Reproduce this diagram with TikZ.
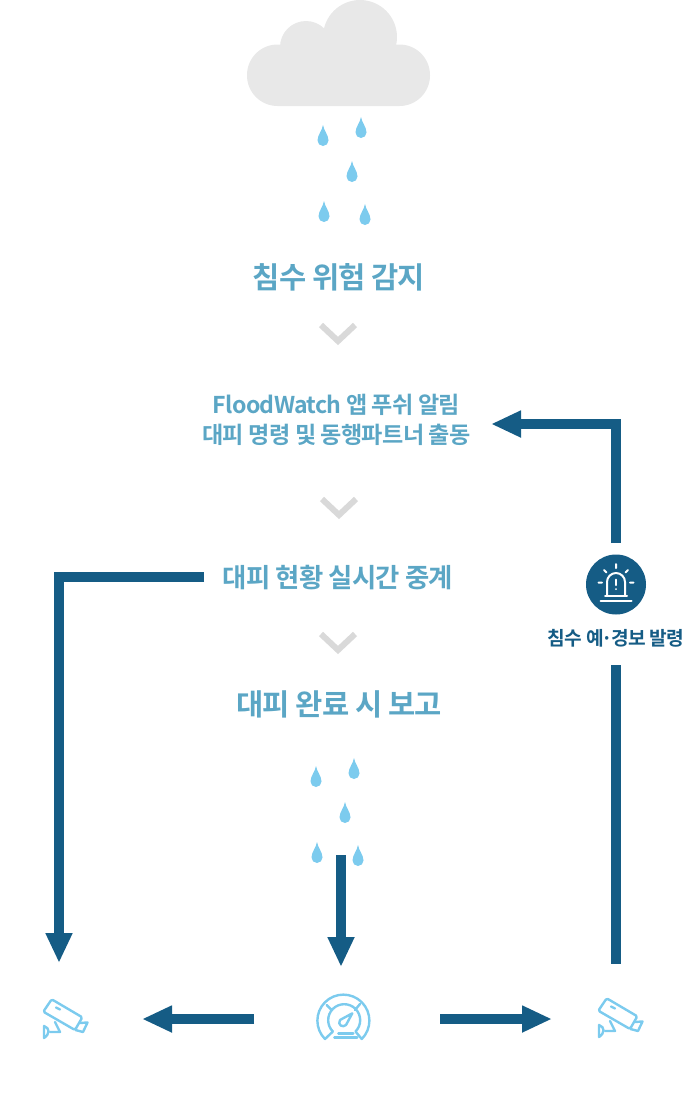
\documentclass[tikz,border=0pt]{standalone}
\usepackage{fontspec}
\setmainfont{Noto Sans CJK KR}[BoldFont={Noto Sans CJK KR Bold},LetterSpace=-3]
\usetikzlibrary{arrows.meta}
\definecolor{lineblue}{HTML}{155C85}
\definecolor{textblue}{HTML}{5BA6C5}
\definecolor{dropblue}{HTML}{7CCBEE}
\tikzset{
headline/.style={text=textblue,font=\bfseries\fontsize{29.6}{30}\selectfont,inner sep=0pt},
subline/.style={text=textblue,font=\bfseries\fontsize{26.4}{30}\selectfont,inner sep=0pt},
pushline/.style={text=textblue,font=\bfseries\fontsize{23.1}{30}\selectfont,inner sep=0pt,align=center},
alarmlabel/.style={text=lineblue,font=\bfseries\fontsize{19.2}{22}\selectfont,inner sep=0pt},
flowline/.style={draw=lineblue,line width=10pt},
flowarrow/.style={flowline,-{Triangle[length=30pt,width=25pt]}},
chevron/.style={draw=black!15,line width=6pt},
iconline/.style={draw=dropblue,line width=2.4pt,line join=round,line cap=round},
alarmline/.style={draw=white,line width=2pt,line cap=round},
raindrop/.pic={\fill[dropblue] (0,21) .. controls (1,15) and (5.5,11) .. (5.5,5.5)
arc (0:-180:5.5) .. controls (-5.5,11) and (-1,15) .. (0,21);},
camera/.pic={
\draw[iconline,rounded corners=1.5pt] (43.3,-1011.7)--(51.7,-999.3)--(82.3,-1017.3)--(75,-1030)--cycle;
\draw[iconline] (79.5,-1023)--(87.5,-1022.5)--(83,-1032)--(75.5,-1030);
\draw[iconline] (55,-1022)--(60,-1032)--(50,-1032);
\draw[iconline] (44,-1026) .. controls (50,-1028) and (50,-1034) .. (44,-1038)--cycle;
\draw[iconline] (56,-1007.5)--(60,-1009.5);
}}
\begin{document}
\begin{tikzpicture}[x=1pt,y=1pt]
\useasboundingbox (0,0) rectangle (683,-1117);
\fill[black!9] (360,-37) circle (37) (306,-47) circle (26);
\fill[black!9,rounded corners=30.5pt] (247,-44.5) rectangle (430,-106);
\foreach \x/\y in {323/146,361/138,352/182,324/222,365/225,316/787,354/779,345/823,317/863,358/866}
\pic at (\x,-\y) {raindrop};
\foreach \x/\y in {338/341,339/515,338/650}
\draw[chevron] (\x-17,-\y+16)--(\x,-\y)--(\x+17,-\y+16);
\node[headline] (detect) at (339,-277) {침수 위험 감지};
\node[pushline] (push) at (336.5,-420) {FloodWatch 앱 푸쉬 알림\\대피 명령 및 동행파트너 출동};
\node[subline] (relay) at (338,-578) {대피 현황 실시간 중계};
\node[headline] (report) at (339,-704) {대피 완료 시 보고};
\node[circle,fill=lineblue,minimum size=60pt,inner sep=0pt] (alarm) at (616,-584.5) {};
\node[alarmlabel] (alarmtext) at (616,-638.5) {침수 예\kern-2pt·\kern-2pt경보 발령};
\draw[alarmline,line join=round] (607,-595) -- (607,-582) arc (180:0:9) -- (625,-595);
\draw[alarmline] (600.5,-600.5)--(631.5,-600.5) (605,-595.5)--(627,-595.5);
\draw[alarmline] (616,-579.5)--(616,-585) (616,-589)--(616,-589.2);
\draw[alarmline] (616,-564)--(616,-568) (604,-570)--(606.5,-572.5) (628,-570)--(625.5,-572.5)
(598.5,-582.5)--(602,-582.5) (630,-582.5)--(633.5,-582.5);
\coordinate (camleft) at (59,-963);
\coordinate (camright) at (616,-964);
\coordinate (gaugetop) at (341,-855);
\coordinate (gaugein) at (341,-967);
\coordinate (gaugeleft) at (254,-1019);
\coordinate (gaugeright) at (440,-1019);
\coordinate (leftend) at (142,-1019);
\coordinate (rightend) at (552,-1019);
\coordinate (relayout) at (204,-577);
\coordinate (pushin) at (491,-424);
\coordinate (alarmup) at (616,-543);
\coordinate (alarmdown) at (616,-665);
\draw[flowarrow] (relayout) -| (camleft);
\draw[flowarrow] (alarmup) |- (pushin);
\draw[flowline] (alarmdown) -- (camright);
\draw[flowarrow] (gaugetop) -- (gaugein);
\draw[flowarrow] (gaugeleft) -- (leftend);
\draw[flowarrow] (gaugeright) -- (rightend);
\pic at (0,0) {camera};
\pic at (555,1) {camera};
\draw[iconline] (325,-1039) arc (225:-45:26)--(355.5,-1031.5) arc (-45:225:16)--cycle
(326.7,-1005)--(331.7,-1010) (360,-1004)--(355,-1010);
\draw[iconline] (340,-1020)--(352.3,-1013.3)--(346,-1025)
.. controls (343,-1028) and (337,-1025) .. (340,-1020);
\draw[iconline] (338.3,-1033.3)--(353.3,-1033.3) (334.3,-1037.3)--(357.3,-1037.3);
\end{tikzpicture}
\end{document}
